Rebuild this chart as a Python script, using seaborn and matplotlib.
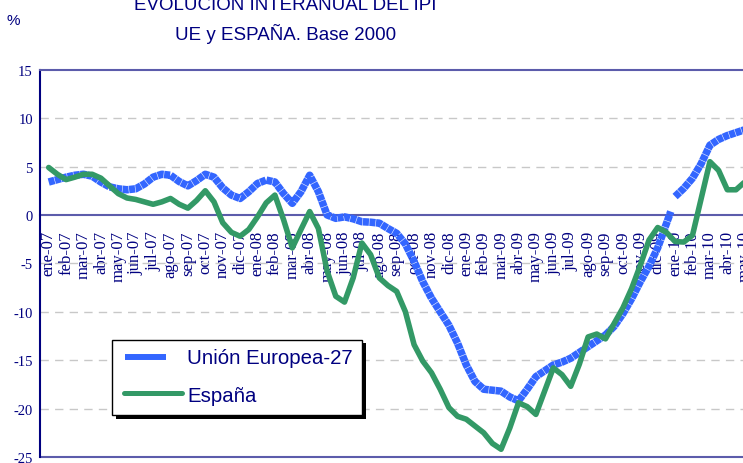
import numpy as np
import pandas as pd
import matplotlib
matplotlib.use("Agg")
import matplotlib.pyplot as plt
import seaborn as sns
from matplotlib.lines import Line2D
from matplotlib.patches import Rectangle

# Meses del eje de categorías
months = [
    "ene-07", "feb-07", "mar-07", "abr-07", "may-07", "jun-07", "jul-07", "ago-07",
    "sep-07", "oct-07", "nov-07", "dic-07",
    "ene-08", "feb-08", "mar-08", "abr-08", "may-08", "jun-08", "jul-08", "ago-08",
    "sep-08", "oct-08", "nov-08", "dic-08",
    "ene-09", "feb-09", "mar-09", "abr-09", "may-09", "jun-09", "jul-09", "ago-09",
    "sep-09", "oct-09", "nov-09", "dic-09",
    "ene-10", "feb-10", "mar-10", "abr-10", "may-10",
]

# Tasa interanual del IPI (%), observaciones cada medio mes desde ene-07
es_ipi = [
    4.9, 4.2, 3.65, 3.9, 4.2, 4.2, 3.8, 3.0, 2.2, 1.75,
    1.6, 1.35, 1.1, 1.35, 1.7, 1.1, 0.7, 1.5, 2.5, 1.35,
    -0.8, -1.8, -2.2, -1.5, -0.2, 1.25, 2.05, -0.5, -3.4, -1.5,
    0.35, -1.4, -5.8, -8.4, -9.0, -6.5, -2.9, -4.1, -6.5, -7.3,
    -7.9, -10.0, -13.4, -15.1, -16.3, -18.0, -19.9, -20.8, -21.1, -21.8,
    -22.5, -23.6, -24.2, -22.0, -19.4, -19.8, -20.6, -18.2, -15.8, -16.5,
    -17.7, -15.4, -12.6, -12.3, -12.8, -11.2, -9.6, -7.6, -5.2, -2.6,
    -1.3, -1.8, -2.75, -2.8, -2.1, 1.7, 5.5, 4.6, 2.6, 2.6,
    3.4,
]

# Unión Europea-27: la serie se corta entre dic-09 y ene-10
ue_tramo1 = [
    3.4, 3.65, 3.9, 4.1, 4.2, 4.0, 3.4, 2.9, 2.7, 2.6,
    2.7, 3.2, 3.9, 4.2, 4.1, 3.45, 3.0, 3.55, 4.2, 3.9,
    2.8, 2.05, 1.7, 2.4, 3.25, 3.6, 3.4, 2.2, 1.2, 2.4,
    4.1, 2.4, 0.0, -0.35, -0.2, -0.4, -0.7, -0.75, -0.85, -1.4,
    -1.9, -3.0, -4.8, -6.9, -8.6, -10.0, -11.4, -13.25, -15.5, -17.2,
    -18.0, -18.1, -18.2, -18.8, -19.2, -18.0, -16.7, -16.1, -15.5, -15.2,
    -14.8, -14.2, -13.6, -13.0, -12.4, -11.5, -10.2, -8.65, -6.9, -5.3,
    -3.4, -0.9,
]
ue_cierre_tramo1 = (35.75, 0.35)
ue_tramo2 = [1.9, 2.75, 3.8, 5.3, 7.2, 7.8, 8.2, 8.5, 8.8]

y_ticks = [15, 10, 5, 0, -5, -10, -15, -20, -25]

# ---------------------------------------------------------------------------
pos = np.arange(len(es_ipi)) / 2.0
df_es = pd.DataFrame({"pos": pos, "ipi": es_ipi})

n1 = len(ue_tramo1)
df_ue = pd.DataFrame({
    "pos": list(pos[:n1]) + [ue_cierre_tramo1[0]] + list(pos[n1:n1 + len(ue_tramo2)]),
    "ipi": ue_tramo1 + [ue_cierre_tramo1[1]] + ue_tramo2,
    "tramo": [1] * (n1 + 1) + [2] * len(ue_tramo2),
})

sns.set_style("white")
plt.rcParams["font.family"] = ["Liberation Sans", "DejaVu Sans"]

navy = "#000080"
marco = "#5c5cab"
azul = "#3366ff"
verde = "#339966"

W, H = 743, 464
fig = plt.figure(figsize=(W / 100, H / 100), dpi=100)
ax = fig.add_axes([40 / W, 6 / H, 713.4 / W, 387.3 / H])

sns.lineplot(data=df_ue, x="pos", y="ipi", units="tramo", estimator=None,
             sort=False, color=azul, lw=5.4, linestyle=(0, (0.8, 0.07)),
             dash_capstyle="butt", legend=False, ax=ax, zorder=3)
sns.lineplot(data=df_es, x="pos", y="ipi", estimator=None, sort=False,
             color=verde, lw=4.0, solid_capstyle="round",
             solid_joinstyle="round", legend=False, ax=ax, zorder=4)

ax.set_xlim(-0.5, len(months) - 0.5)
ax.set_ylim(-25, 15)
ax.set_xlabel("")
ax.set_ylabel("")

# Cuadrícula horizontal discontinua
for v in y_ticks:
    if v not in (15, 0, -25):
        ax.axhline(v, color="#c8c8c8", lw=1.0, linestyle=(0, (6, 4.5)), zorder=1)

# Marco del área de trazado y eje de categorías en el cero
ax.spines["right"].set_visible(False)
ax.spines["top"].set_color(marco)
ax.spines["top"].set_linewidth(1.5)
ax.spines["left"].set_color(navy)
ax.spines["left"].set_linewidth(1.5)
ax.spines["bottom"].set_position(("data", 0))
ax.spines["bottom"].set_color(marco)
ax.spines["bottom"].set_linewidth(1.5)
ax.spines["bottom"].set_zorder(2)
ax.axhline(-25, color=marco, lw=1.5, clip_on=False, zorder=2)

serif = ["Liberation Serif", "DejaVu Serif"]
ax.set_xticks(np.arange(len(months)))
ax.set_xticklabels(months, rotation=90, family=serif, fontsize=12, color=navy)
ax.set_xticks(np.arange(len(months) + 1) - 0.5, minor=True)
ax.tick_params(axis="x", which="major", length=0, pad=11)
ax.tick_params(axis="x", which="minor", length=3.4, width=1.1, color=marco,
               direction="out")

ax.set_yticks(y_ticks)
ax.set_yticklabels([str(v) for v in y_ticks], family=serif, fontsize=10.5,
                   color=navy)
ax.tick_params(axis="y", length=3.6, width=1.1, color=navy, pad=1.5)

# Títulos
fig.text(285.5 / W, 1 - 10 / H, "EVOLUCIÓN INTERANUAL DEL IPI", ha="center",
         va="baseline", fontsize=13.5, color=navy)
fig.text(285.5 / W, 1 - 40 / H, "UE y ESPAÑA. Base 2000", ha="center",
         va="baseline", fontsize=13.5, color=navy)
fig.text(13.5 / W, 1 - 21 / H, "%", ha="center", va="center", fontsize=11,
         color=navy)

# Leyenda con sombra
def fx(px):
    return px / W


def fy(py):
    return 1 - py / H


fig.add_artist(Rectangle((fx(116), fy(420)), 250 / W, 76 / H,
                         transform=fig.transFigure, facecolor="black",
                         edgecolor="none", zorder=10))
fig.add_artist(Rectangle((fx(112), fy(416)), 250 / W, 75 / H,
                         transform=fig.transFigure, facecolor="white",
                         edgecolor="black", lw=1.0, zorder=11))
fig.add_artist(Line2D([fx(125), fx(166)], [fy(357.7), fy(357.7)],
                      transform=fig.transFigure, color=azul, lw=4.3,
                      solid_capstyle="butt", zorder=12))
fig.add_artist(Line2D([fx(124), fx(182)], [fy(394.3), fy(394.3)],
                      transform=fig.transFigure, color=verde, lw=3.6,
                      solid_capstyle="round", zorder=12))
fig.text(fx(187), fy(359), "Unión Europea-27", ha="left", va="center",
         fontsize=14.7, color=navy, zorder=13)
fig.text(fx(187), fy(397), "España", ha="left", va="center",
         fontsize=14.7, color=navy, zorder=13)

fig.savefig("out.png", dpi=100)
